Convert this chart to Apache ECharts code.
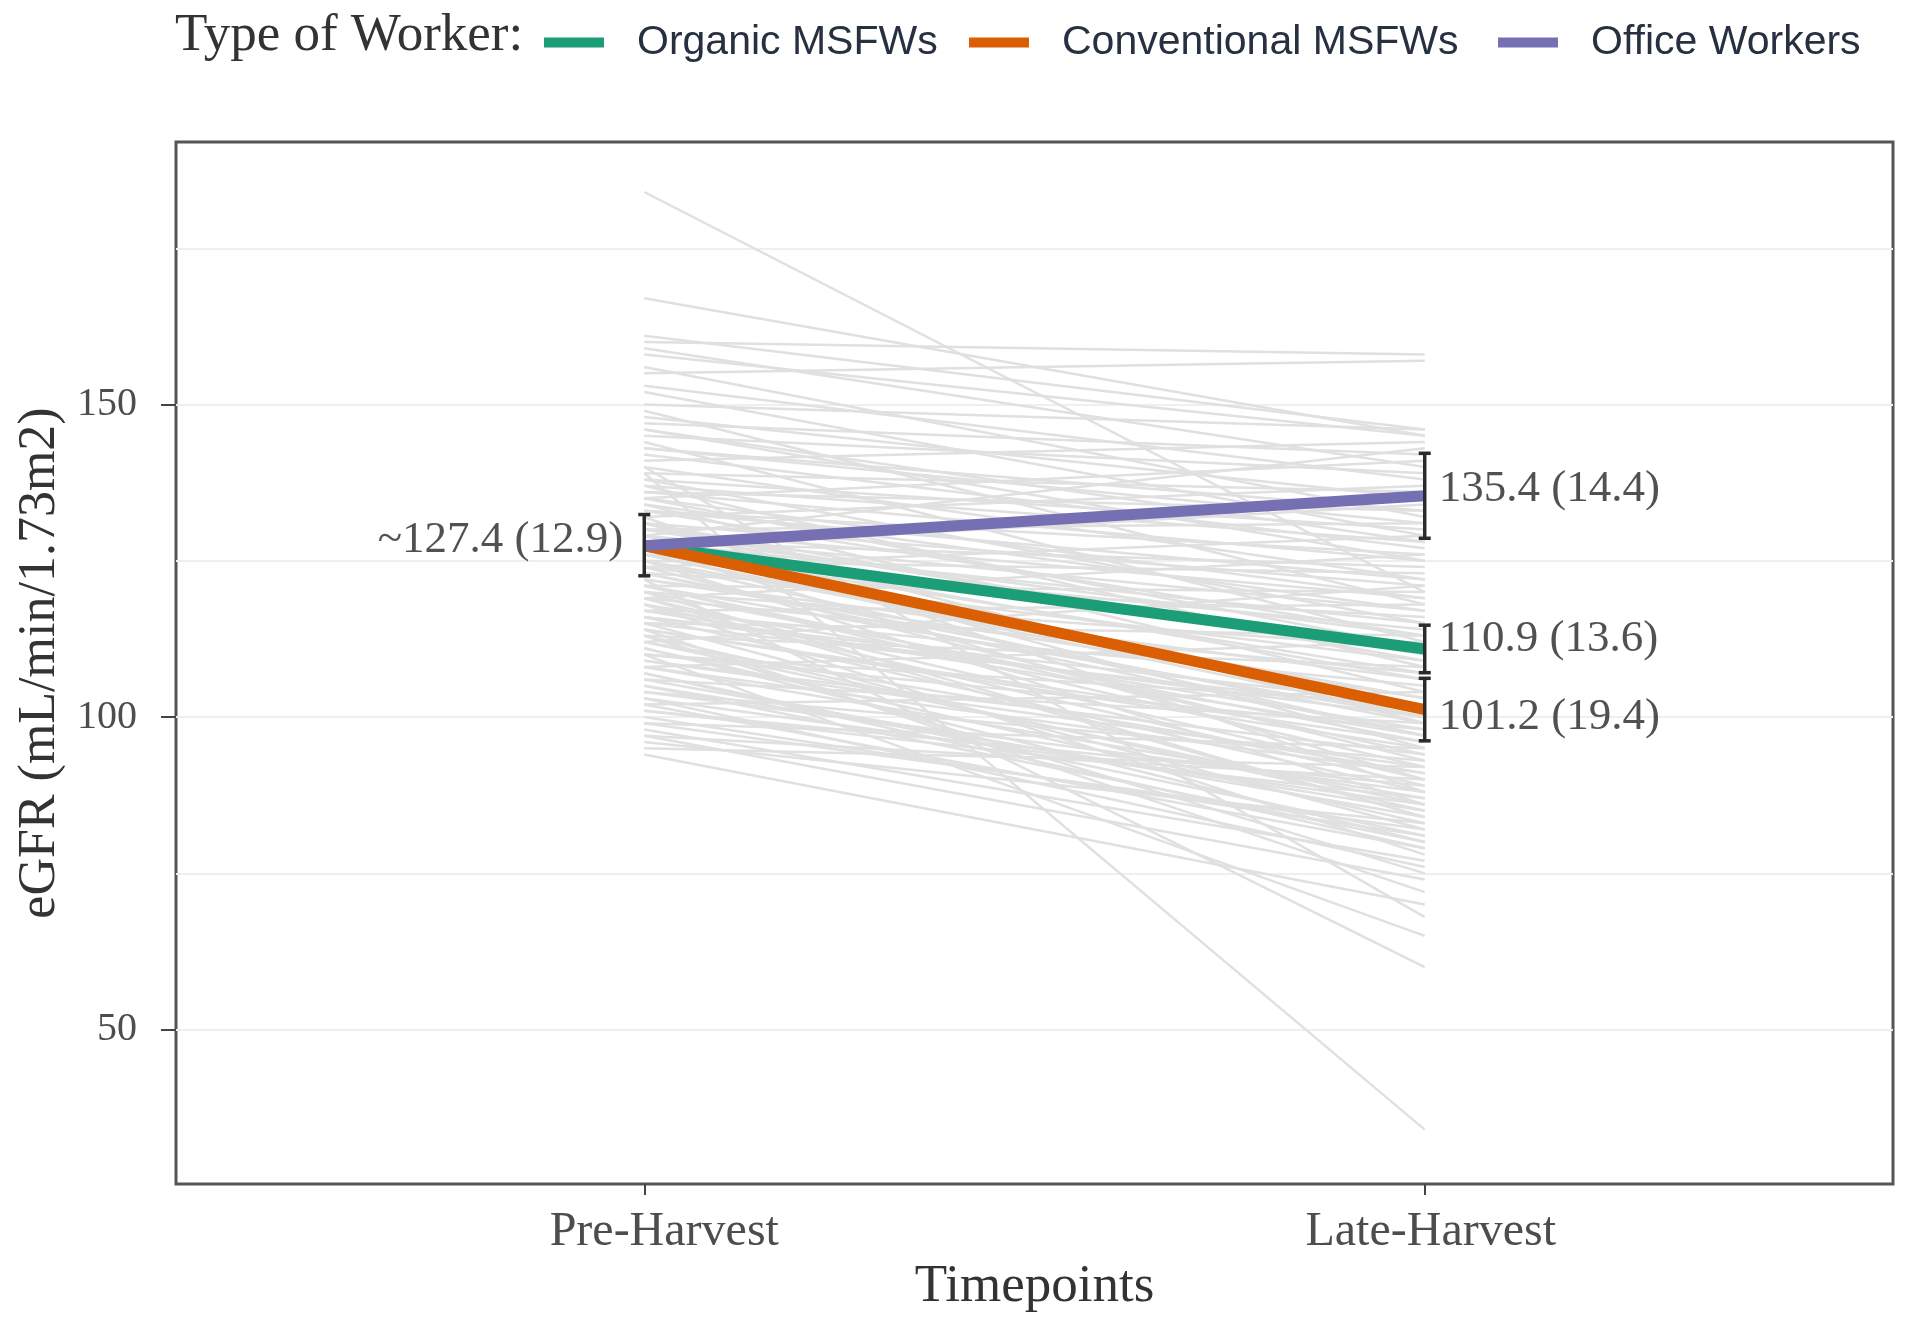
<!DOCTYPE html>
<html><head><meta charset="utf-8">
<script src="https://cdn.jsdelivr.net/npm/echarts@6/dist/echarts.min.js"></script>
<style>html,body{margin:0;padding:0;background:#fff}#c{width:1920px;height:1320px}</style>
</head><body><div id="c"></div>
<script>
// ---- data ----
const timepoints = ['Pre-Harvest', 'Late-Harvest'];
const groupNames = ['Organic MSFWs', 'Conventional MSFWs', 'Office Workers'];
const groupColors = ['#1b9e77', '#d95f02', '#7570b3'];
const groupPre = [127.4, 127.4, 127.4];
const groupLate = [110.9, 101.2, 135.4];
const preErrLow = 122.6, preErrHigh = 132.4;
const lateErrLow = [107.1, 96.2, 128.6];
const lateErrHigh = [114.7, 106.2, 142.2];
const preLabel = '~127.4 (12.9)';
const lateLabels = ['110.9 (13.6)', '101.2 (19.4)', '135.4 (14.4)'];
const yTicks = [50, 100, 150];
const yGrid = [50, 75, 100, 125, 150, 175];
// individual participant trajectories (Pre -> Late)
const indivPre = [184,167,161,160,159,158,156,155,153,152,150,149,148,147,146,145,144,143,142,141,
  140,139,139,138,137,137,136,135,135,134,133,133,132,131,131,130,130,129,129,128,
  128,127,127,126,126,125,125,124,124,123,123,122,122,121,121,120,120,119,119,118,
  118,117,117,116,116,115,115,114,114,113,112,112,111,110,110,109,108,108,107,106,
  105,104,103,102,101,100,99,98,97,96,95,94,129,132,127,125,121,119,113,140,
  136,134,131,128,126,124,122,120,118,116,114,112,110,108,106,104,102,133,129,125,
  121,117,113,109,105,101,138,135,130,127,123,119,115,111,107,103,99,97,143,146];
const indivLate = [120,145,146,158,140,145,132,157,138,129,146,118,135,142,125,139,112,131,127,144,
  122,34,136,115,128,108,133,119,141,104,126,113,137,99,121,110,131,95,117,124,
  106,134,90,114,101,123,86,109,129,97,116,60,103,120,92,111,84,107,126,98,
  78,105,118,88,100,113,82,96,72,108,91,121,80,102,65,94,87,112,79,99,
  85,93,76,104,89,81,95,77,90,83,92,70,143,88,111,97,100,84,75,68,
  125,117,109,115,100,93,106,96,89,102,95,86,98,91,84,88,79,122,113,103,
  94,97,85,92,80,87,130,111,119,107,99,90,101,83,81,86,82,74,133,128];

const SERIF = "'Liberation Serif', 'DejaVu Serif', serif";
const SANS = "'Liberation Sans', Arial, sans-serif";

const chart = echarts.init(document.getElementById('c'));

const mainSeries = groupNames.map((n, i) => ({
  name: n, type: 'line', z: 5,
  data: [[1, groupPre[i]], [2, groupLate[i]]],
  showSymbol: false, symbol: 'none',
  lineStyle: { color: groupColors[i], width: 11 },
  itemStyle: { color: groupColors[i] },
  silent: true, animation: false
}));

const labelOffsets = [[9, -10], [9, 8], [9, -7]];

const option = {
  animation: false,
  title: {
    text: 'Type of Worker:', left: 170, top: 5,
    textStyle: { fontFamily: SERIF, fontSize: 53, fontWeight: 'normal', color: '#333' }
  },
  legend: groupNames.map((n, i) => ({
    data: [n], left: [539, 964, 1493][i], top: 17,
    icon: 'rect', itemWidth: 60, itemHeight: 10,
    selectedMode: false,
    textStyle: { fontFamily: SANS, fontSize: 41, color: '#263040', padding: [0, 0, 0, 28] }
  })),
  grid: { left: 176, right: 27, top: 142, bottom: 136, show: true, borderColor: '#555', borderWidth: 3, backgroundColor: '#fff' },
  xAxis: {
    type: 'value', min: 0.4, max: 2.6,
    name: 'Timepoints', nameLocation: 'middle', nameGap: 68,
    nameTextStyle: { fontFamily: SERIF, fontSize: 53, color: '#333' },
    axisLine: { show: false },
    axisTick: { show: true, customValues: [1, 2], length: 11, lineStyle: { color: '#444', width: 2 } },
    axisLabel: {
      customValues: [1, 2],
      formatter: v => (Math.round(v) === 1 ? '{pre|' : '{late|') + (timepoints[Math.round(v) - 1] || '') + '}',
      fontFamily: SERIF, fontSize: 48, color: '#4d4d4d', margin: 24,
      rich: {
        pre: { fontFamily: SERIF, fontSize: 48, color: '#4d4d4d', padding: [0, 0, 0, 40] },
        late: { fontFamily: SERIF, fontSize: 48, color: '#4d4d4d', padding: [0, 0, 0, 12] }
      }
    },
    splitLine: { show: false }
  },
  yAxis: [{
    type: 'value', min: 25.3, max: 192,
    name: 'eGFR (mL/min/1.73m2)', nameLocation: 'middle', nameGap: 100,
    nameTextStyle: { fontFamily: SERIF, fontSize: 52, color: '#333' },
    axisLine: { show: false },
    axisTick: { show: true, customValues: yTicks, length: 15, lineStyle: { color: '#444', width: 2 } },
    axisLabel: { customValues: yTicks, fontFamily: SERIF, fontSize: 40, color: '#4d4d4d', margin: 39 },
    splitLine: { show: false }
  }, {
    type: 'value', min: 25.3, max: 192, position: 'left',
    axisLine: { show: false }, axisLabel: { show: false },
    axisTick: { show: false, customValues: yGrid },
    splitLine: { show: true, lineStyle: { color: '#efefef', width: 2 } }
  }],
  series: [
    {
      name: 'individuals', type: 'lines', coordinateSystem: 'cartesian2d', z: 2,
      xAxisIndex: 0, yAxisIndex: 0, silent: true,
      data: indivPre.map((v, i) => ({ coords: [[1, v], [2, indivLate[i]]] })),
      lineStyle: { color: '#e0e0e0', width: 2.5, opacity: 1 }
    },
    ...mainSeries,
    {
      name: 'errorbars', type: 'custom', z: 8, silent: true,
      data: [[1, preErrLow, preErrHigh]].concat(groupNames.map((n, i) => [2, lateErrLow[i], lateErrHigh[i]])),
      renderItem: (params, api) => {
        const x = api.value(0);
        const p1 = api.coord([x, api.value(1)]);
        const p2 = api.coord([x, api.value(2)]);
        const c = 6, st = { stroke: '#2b2b2b', lineWidth: 3.5 };
        return { type: 'group', children: [
          { type: 'line', shape: { x1: p1[0], y1: p1[1], x2: p2[0], y2: p2[1] }, style: st },
          { type: 'line', shape: { x1: p1[0] - c, y1: p1[1], x2: p1[0] + c, y2: p1[1] }, style: st },
          { type: 'line', shape: { x1: p2[0] - c, y1: p2[1], x2: p2[0] + c, y2: p2[1] }, style: st }
        ]};
      }
    },
    {
      name: 'labels', type: 'scatter', z: 9, silent: true, symbolSize: 0,
      data: [{ value: [1, groupPre[0]], label: { position: 'left', offset: [-16, -6] }, name: preLabel }]
        .concat(groupNames.map((n, i) => ({ value: [2, groupLate[i]], name: lateLabels[i], label: { position: 'right', offset: labelOffsets[i] } }))),
      label: { show: true, formatter: p => p.name, fontFamily: SERIF, fontSize: 45, color: '#262626' }
    }
  ]
};
chart.setOption(option);
</script></body></html>
